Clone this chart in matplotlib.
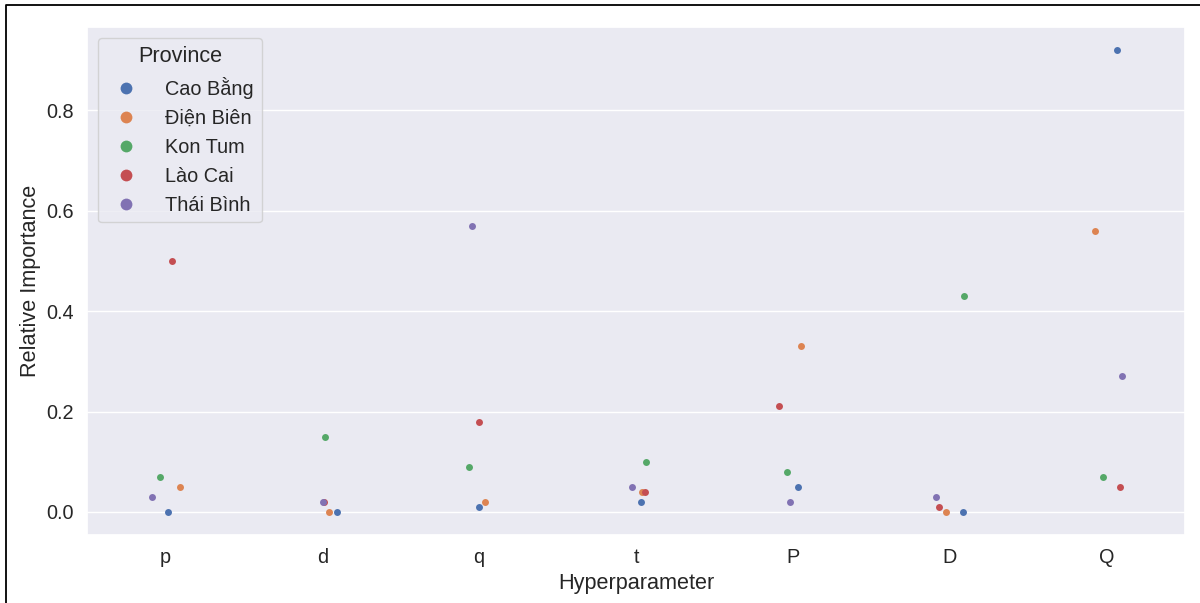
import numpy as np
import matplotlib
matplotlib.use("Agg")
import matplotlib.pyplot as plt
from matplotlib.lines import Line2D
import seaborn as sns

hyperparameters = ["p", "d", "q", "t", "P", "D", "Q"]
provinces = ["Cao Bằng", "Điện Biên", "Kon Tum", "Lào Cai", "Thái Bình"]

# Relative importance of each hyperparameter, per province
cao_bang = [0.00, 0.00, 0.01, 0.02, 0.05, 0.00, 0.92]
dien_bien = [0.05, 0.00, 0.02, 0.04, 0.33, 0.00, 0.56]
kon_tum = [0.07, 0.15, 0.09, 0.10, 0.08, 0.43, 0.07]
lao_cai = [0.50, 0.02, 0.18, 0.04, 0.21, 0.01, 0.05]
thai_binh = [0.03, 0.02, 0.57, 0.05, 0.02, 0.03, 0.27]
values = [cao_bang, dien_bien, kon_tum, lao_cai, thai_binh]

# Horizontal strip jitter for each province within a category
jitter = [
    [0.015, 0.094, 0.000, 0.030, 0.034, 0.086, 0.064],
    [0.090, 0.040, 0.036, 0.040, 0.050, -0.024, -0.076],
    [-0.034, 0.015, -0.064, 0.064, -0.035, 0.090, -0.024],
    [0.040, 0.013, 0.000, 0.057, -0.087, -0.069, 0.086],
    [-0.087, 0.002, -0.045, -0.025, -0.016, -0.087, 0.096],
]

sns.set_theme(style="darkgrid", font_scale=1.3)
plt.rcParams["font.family"] = ["Liberation Sans", "DejaVu Sans"]

palette = sns.color_palette("deep", len(provinces))

fig = plt.figure(figsize=(12, 6.03), dpi=100)
ax = fig.add_axes([0.0725, 0.1128, 0.915, 0.8424])

xpos = np.arange(len(hyperparameters))
for i, (name, vals) in enumerate(zip(provinces, values)):
    ax.scatter(xpos + np.array(jitter[i]), vals, s=25, color=palette[i],
               linewidth=0, label=name, zorder=3)

ax.set_xlim(-0.5, len(hyperparameters) - 0.5)
ax.set_xticks(xpos)
ax.set_xticklabels(hyperparameters)
ax.set_yticks([0.0, 0.2, 0.4, 0.6, 0.8])
ax.set_xlabel("Hyperparameter")
ax.set_ylabel("Relative Importance")
ax.grid(axis="x", visible=False)

handles = [Line2D([0], [0], marker="o", linestyle="", markersize=8.5,
                  markerfacecolor=palette[i], markeredgewidth=0)
           for i in range(len(provinces))]
ax.legend(handles, provinces, title="Province", loc="upper left",
          handletextpad=1.0, borderaxespad=0.55)

# Thin frame along the top and left of the figure
fig.add_artist(Line2D([6 / 1200, 6 / 1200, 1.0], [0.0, 1 - 5 / 603, 1 - 5 / 603],
                      transform=fig.transFigure, color="black", linewidth=1.3))

fig.savefig("out.png", dpi=100)
